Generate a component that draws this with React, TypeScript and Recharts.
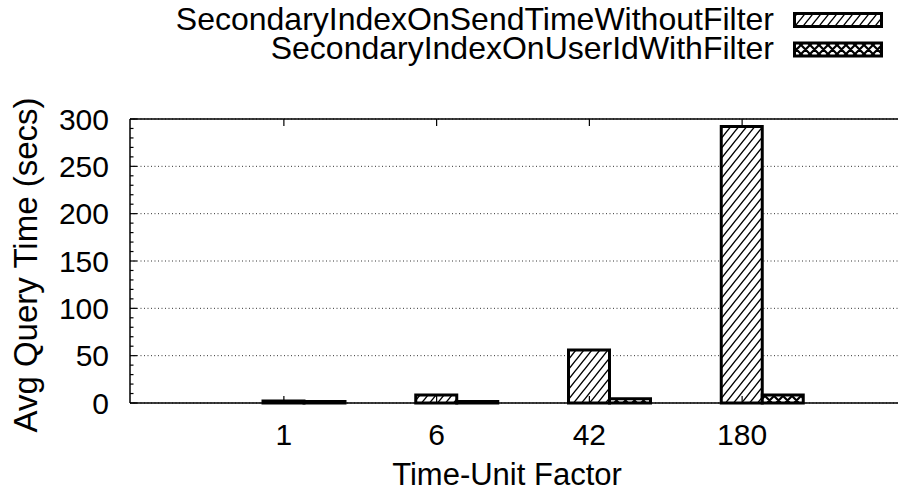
import React from 'react';
import { BarChart, Bar, XAxis, YAxis, CartesianGrid, Legend } from 'recharts';

// Time-unit factors on the x axis
const factors = ['1', '6', '42', '180'];
// Average query time in seconds for each index strategy
const sendTimeWithoutFilter = [2.0, 8.5, 56, 292];
const userIdWithFilter = [1.5, 1.5, 4.5, 8.5];
const seriesNames = ['SecondaryIndexOnSendTimeWithoutFilter', 'SecondaryIndexOnUserIdWithFilter'];
const majorTicks = [0, 50, 100, 150, 200, 250, 300];
const minorTicks = [
  0, 10, 20, 30, 40, 50, 60, 70, 80, 90, 100, 110, 120, 130, 140, 150,
  160, 170, 180, 190, 200, 210, 220, 230, 240, 250, 260, 270, 280, 290, 300,
];

const data = factors.map((f, i) => ({
  factor: f,
  sendTime: sendTimeWithoutFilter[i],
  userId: userIdWithFilter[i],
}));

const W = 899;
const H = 492;
const BAR = 41;
const FONT = '"Liberation Sans", Arial, Helvetica, sans-serif';
const AXIS = { stroke: '#000', strokeWidth: 1.5 };
const PATTERNS = ['url(#hatchSend)', 'url(#crossUser)'];
const X_PAD = { left: 98, right: 59 };

const BottomTick = (props: any) => {
  const { x, y, payload } = props;
  const cx = x - BAR / 2;
  return (
    <g>
      <line x1={cx} x2={cx} y1={y} y2={y - 7} stroke="#000" strokeWidth={1.2} />
      <text x={cx} y={y + 31} textAnchor="middle" dominantBaseline="central" fontSize={30} fontFamily={FONT} fill="#000">
        {payload.value}
      </text>
    </g>
  );
};

const TopTick = (props: any) => {
  const { x, y } = props;
  const cx = x - BAR / 2;
  return <line x1={cx} x2={cx} y1={y} y2={y + 7} stroke="#000" strokeWidth={1.2} />;
};

const LeftTick = (props: any) => {
  const { x, y, payload } = props;
  const major = payload.value % 50 === 0;
  return (
    <g>
      <line x1={x} x2={x + (major ? 7 : 3.5)} y1={y} y2={y} stroke="#000" strokeWidth={1.2} />
      {major && (
        <text x={x - 21} y={y} textAnchor="end" dominantBaseline="central" fontSize={30} fontFamily={FONT} fill="#000">
          {payload.value}
        </text>
      )}
    </g>
  );
};

const RightTick = (props: any) => {
  const { x, y, payload } = props;
  const len = payload.value % 50 === 0 ? 7 : 3.5;
  return <line x1={x + 1} x2={x + 1 - len} y1={y} y2={y} stroke="#000" strokeWidth={1.2} />;
};

const renderLegend = (props: any) => {
  const items = props.payload || [];
  return (
    <svg width={W} height={70} style={{ display: 'block' }}>
      {items.map((it: any, i: number) => {
        const base = 29.5 + i * 29.5;
        return (
          <g key={i}>
            <text x={774} y={base} textAnchor="end" fontSize={32} fontFamily={FONT} fill="#000">
              {it.value}
            </text>
            <rect x={794.5} y={base - 16} width={87} height={13} fill={PATTERNS[i]} stroke="#000" strokeWidth={3} />
          </g>
        );
      })}
    </svg>
  );
};

const XLabel = (props: any) => {
  const vb = props.viewBox || {};
  return (
    <text x={vb.x + vb.width / 2 - 7} y={vb.y + 71} textAnchor="middle" dominantBaseline="central" fontSize={31} fontFamily={FONT} fill="#000">
      Time-Unit Factor
    </text>
  );
};

const YLabel = (props: any) => {
  const vb = props.viewBox || {};
  const cx = vb.x + vb.width - 93;
  const cy = vb.y + vb.height / 2 + 4;
  return (
    <text x={cx} y={cy} transform={`rotate(-90, ${cx}, ${cy})`} textAnchor="middle" fontSize={33} fontFamily={FONT} fill="#000">
      Avg Query Time (secs)
    </text>
  );
};

export default function App() {
  return (
    <div style={{ position: 'absolute', left: 0, top: 0, width: W, height: H, background: '#fff' }}>
      <BarChart
        width={W}
        height={H}
        data={data}
        margin={{ top: 118, right: 0, bottom: 88, left: 129 }}
        barGap={0}
        barSize={BAR}
      >
        <defs>
          <pattern id="hatchSend" patternUnits="userSpaceOnUse" width={8} height={10}>
            <rect width={8} height={10} fill="#fff" />
            <path d="M-2,2.5 L2,-2.5 M0,10 L8,0 M6,12.5 L10,7.5" stroke="#000" strokeWidth={1.4} />
          </pattern>
          <pattern id="crossUser" patternUnits="userSpaceOnUse" width={9} height={9}>
            <rect width={9} height={9} fill="#fff" />
            <path d="M0,0 L9,9 M0,9 L9,0 M-1,1 L1,-1 M8,10 L10,8 M-1,8 L1,10 M8,-1 L10,1" stroke="#000" strokeWidth={2.2} />
          </pattern>
        </defs>
        <CartesianGrid
          vertical={false}
          horizontalValues={majorTicks}
          stroke="#333"
          strokeDasharray="1 2.5"
          strokeWidth={1}
        />
        <XAxis
          dataKey="factor"
          type="category"
          height={1}
          padding={X_PAD}
          interval={0}
          tickSize={0}
          tickMargin={0}
          tickLine={false}
          axisLine={AXIS}
          tick={<BottomTick />}
          label={<XLabel />}
        />
        <XAxis
          xAxisId={1}
          orientation="top"
          dataKey="factor"
          type="category"
          height={1}
          padding={X_PAD}
          interval={0}
          tickSize={0}
          tickMargin={0}
          tickLine={false}
          axisLine={AXIS}
          tick={<TopTick />}
        />
        <YAxis
          type="number"
          domain={[0, 300]}
          ticks={minorTicks}
          width={1}
          interval={0}
          tickSize={0}
          tickMargin={0}
          tickLine={false}
          axisLine={AXIS}
          tick={<LeftTick />}
          label={<YLabel />}
        />
        <YAxis
          yAxisId={1}
          orientation="right"
          type="number"
          domain={[0, 300]}
          ticks={minorTicks}
          width={1}
          interval={0}
          tickSize={0}
          tickMargin={0}
          tickLine={false}
          axisLine={false}
          tick={<RightTick />}
        />
        <Legend
          layout="horizontal"
          verticalAlign="middle"
          align="center"
          content={renderLegend}
          wrapperStyle={{ position: 'absolute', top: 0, left: 0, width: W, height: 70 }}
        />
        <Bar
          dataKey="sendTime"
          name={seriesNames[0]}
          fill={PATTERNS[0]}
          stroke="#000"
          strokeWidth={3}
          isAnimationActive={false}
        />
        <Bar
          dataKey="userId"
          name={seriesNames[1]}
          fill={PATTERNS[1]}
          stroke="#000"
          strokeWidth={3}
          isAnimationActive={false}
        />
      </BarChart>
    </div>
  );
}
